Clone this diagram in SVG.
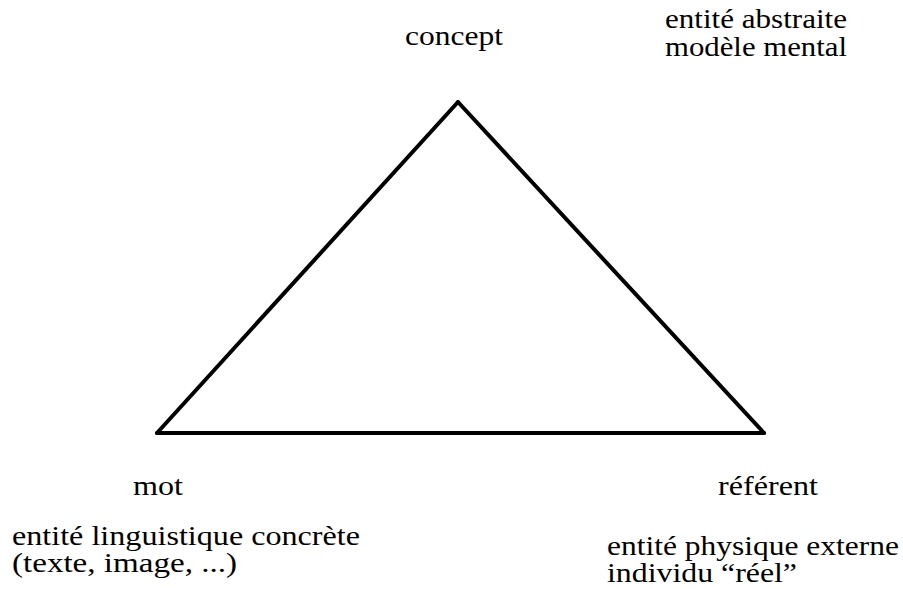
<svg xmlns="http://www.w3.org/2000/svg" width="903" height="589" viewBox="0 0 903 589">
<style>
text{font-family:"Liberation Serif","Times New Roman",serif;font-size:28px;fill:#000}
.edge{stroke:#000;stroke-width:4;fill:none;stroke-linecap:round;stroke-linejoin:miter}
</style>
<rect width="903" height="589" fill="#fff"/>
<g id="connectors">
<line class="edge" x1="458" y1="102" x2="157" y2="433"/>
<line class="edge" x1="458" y1="102" x2="764" y2="433"/>
<line class="edge" x1="157" y1="433" x2="764" y2="433"/>
</g>
<g id="concept">
<text x="405" y="45" textLength="98" lengthAdjust="spacingAndGlyphs">concept</text>
<text x="665" y="28" textLength="182" lengthAdjust="spacingAndGlyphs">entité abstraite</text>
<text x="665" y="56" textLength="182" lengthAdjust="spacingAndGlyphs">modèle mental</text>
</g>
<g id="mot">
<text x="133" y="495" textLength="50" lengthAdjust="spacingAndGlyphs">mot</text>
<text x="12" y="545" textLength="348" lengthAdjust="spacingAndGlyphs">entité linguistique concrète</text>
<text x="12" y="572" textLength="225" lengthAdjust="spacingAndGlyphs">(texte, image, ...)</text>
</g>
<g id="referent">
<text x="718" y="495" textLength="100" lengthAdjust="spacingAndGlyphs">référent</text>
<text x="607" y="555" textLength="292" lengthAdjust="spacingAndGlyphs">entité physique externe</text>
<text x="607" y="582" textLength="190" lengthAdjust="spacingAndGlyphs">individu “réel”</text>
</g>
</svg>
